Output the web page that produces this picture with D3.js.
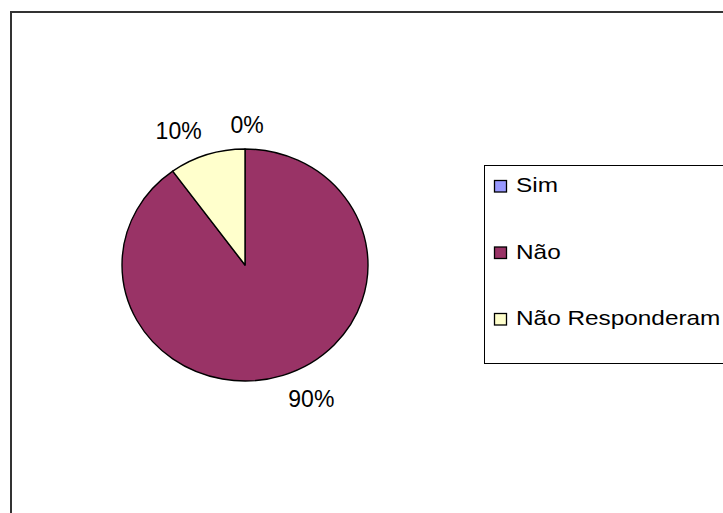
<!DOCTYPE html>
<html>
<head>
<meta charset="utf-8">
<script src="https://cdn.jsdelivr.net/npm/d3@7"></script>
<style>
    body { margin: 0; background: #fff; }
    svg { display: block; font-family: "Liberation Sans", Arial, sans-serif; }
</style>
</head>
<body>
<div id="chart-container"></div>
<script>
const categories = ["Sim", "Não", "Não Responderam"];
const values = [0, 90, 10];
const colors = ["#9999FF", "#993366", "#FFFFCC"];

document.addEventListener("DOMContentLoaded", () => {
    const width = 723, height = 513;
    const cx = 245, cy = 265;
    const rx = 123, ry = 116;

    const svg = d3.select('#chart-container')
        .append('svg')
        .attr('width', width)
        .attr('height', height);

    // outer chart frame (runs off the page on the right and bottom)
    svg.append('rect')
        .attr('x', 11).attr('y', 12)
        .attr('width', 800).attr('height', 600)
        .attr('fill', '#fff')
        .attr('stroke', '#333')
        .attr('stroke-width', 2);

    const total = d3.sum(values);
    const info = categories.map((c, i) => ({ name: c, value: values[i], color: colors[i] }));

    const pie = d3.pie().sort(null).value(d => d.value);
    const arcs = pie(info);
    const arc = d3.arc().innerRadius(0).outerRadius(rx);

    // pie is slightly squashed vertically, so draw it as an ellipse
    const pieG = svg.append('g')
        .attr('transform', `translate(${cx},${cy}) scale(1,${ry / rx})`);

    pieG.selectAll('path')
        .data(arcs.filter(d => d.endAngle > d.startAngle))
        .enter().append('path')
        .attr('d', arc)
        .attr('fill', d => d.data.color)
        .attr('stroke', '#000')
        .attr('stroke-width', 1.4)
        .attr('stroke-linejoin', 'round')
        .attr('vector-effect', 'non-scaling-stroke');

    // percentage labels outside the pie
    const fmt = d3.format('.0%');
    const f = 1.14;
    svg.selectAll('.pct')
        .data(arcs)
        .enter().append('text')
        .attr('class', 'pct')
        .each(function(d) {
            const a = (d.startAngle + d.endAngle) / 2;
            const s = Math.sin(a), c = Math.cos(a);
            const px = cx + rx * f * s;
            const py = cy - ry * f * c;
            d3.select(this)
                .attr('x', s === 0 ? px + 2 : px)
                .attr('y', c >= 0 ? py : py + 16)
                .attr('text-anchor', s > 0.01 ? 'start' : (s < -0.01 ? 'end' : 'middle'));
        })
        .attr('font-size', 23)
        .attr('fill', '#000')
        .text(d => fmt(d.data.value / total));

    // legend
    svg.append('rect')
        .attr('x', 484.5).attr('y', 165.5)
        .attr('width', 300).attr('height', 198)
        .attr('fill', '#fff')
        .attr('stroke', '#000')
        .attr('stroke-width', 1);

    const ly = d3.scalePoint().domain(categories).range([192, 325]);

    const items = svg.selectAll('.legend-item')
        .data(info)
        .enter().append('g')
        .attr('class', 'legend-item')
        .attr('transform', d => `translate(0,${ly(d.name)})`);

    items.append('rect')
        .attr('x', 494.5).attr('y', -11.5)
        .attr('width', 12).attr('height', 11.5)
        .attr('fill', d => d.color)
        .attr('stroke', '#000')
        .attr('stroke-width', 1.3);

    items.append('text')
        .attr('transform', 'translate(516,0) scale(1.16,1)')
        .attr('font-size', 21)
        .attr('fill', '#000')
        .text(d => d.name);
});
</script>
</body>
</html>
